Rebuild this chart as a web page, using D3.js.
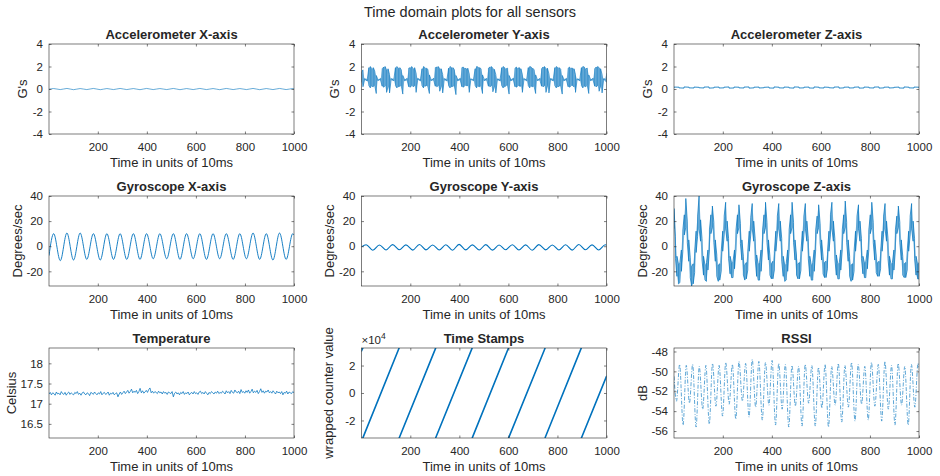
<!DOCTYPE html>
<html>
<head>
<meta charset="utf-8">
<script src="https://cdn.jsdelivr.net/npm/d3@7"></script>
<style>
  body { margin: 0; background: #fff; }
  svg text { font-family: "Liberation Sans", Arial, Helvetica, sans-serif; fill: #262626; }
</style>
</head>
<body>
<svg id="chart" width="940" height="476"></svg>
<script>
// ---- sensor data (sample index 1..1000, 10 ms per sample) ----

const xTickValues = [200, 400, 600, 800, 1000];
const accelTicks = [-4, -2, 0, 2, 4];
const gyroTicks = [-20, 0, 20, 40];
const tempTicks = [16.5, 17, 17.5, 18];
const stampTicks = [-20000, 0, 20000];
const rssiTicks = [-56, -54, -52, -50, -48];

// turning points [sample, value]
const accelX = [[1,-0.02],[20,0.04],[47,-0.05],[74,0.05],[101,-0.06],[128,0.04],[155,-0.05],[182,0.05],[210,-0.06],[237,0.04],[264,-0.05],[291,0.05],[318,-0.05],[345,0.04],[372,-0.06],[399,0.05],[426,-0.05],[453,0.04],[481,-0.05],[508,0.05],[535,-0.06],[562,0.04],[589,-0.05],[616,0.05],[643,-0.05],[670,0.04],[697,-0.06],[724,0.05],[752,-0.05],[779,0.04],[806,-0.05],[833,0.05],[860,-0.06],[887,0.04],[914,-0.05],[941,0.05],[968,-0.05],[995,0.04],[1000,0.01]];

const gyroX = [[1,-7.5],[20,10],[47,-11.5],[74,10.5],[101,-11],[128,10.5],[155,-10.5],[182,10],[210,-11],[237,10],[264,-10.5],[291,10],[318,-10.5],[345,10],[372,-10.5],[399,10],[426,-10],[453,10],[481,-10],[508,10],[535,-10.5],[562,10],[589,-10],[616,10],[643,-10.5],[670,10],[697,-10],[724,10],[752,-10.5],[779,10],[806,-10],[833,10.5],[860,-10.5],[887,10],[914,-11],[941,10.5],[968,-10.5],[995,10],[1000,9]];

const gyroY = [[1,-0.5],[20,1.2],[47,-3.2],[74,1.0],[101,-3.0],[128,1.3],[155,-2.8],[182,1.1],[210,-3.1],[237,1.4],[264,-2.9],[291,1.0],[318,-3.0],[345,1.2],[372,-3.2],[399,1.5],[426,-2.9],[453,1.1],[481,-3.0],[508,1.3],[535,-3.1],[562,1.0],[589,-2.8],[616,1.2],[643,-3.0],[670,1.1],[697,-3.2],[724,1.3],[752,-2.9],[779,1.0],[806,-3.0],[833,1.2],[860,-3.1],[887,1.4],[914,-2.8],[941,1.1],[968,-3.0],[995,1.2],[1000,0.8]];

const rssi = [[1,-50.5],[11,-53.0],[24,-49.3],[38,-55.4],[51,-49.4],[64,-53.2],[77,-49.3],[91,-55.6],[104,-49.5],[118,-53.8],[131,-49.4],[145,-55.3],[158,-49.2],[172,-53.5],[185,-49.4],[199,-54.5],[212,-49.1],[226,-53.3],[239,-49.3],[253,-54.8],[266,-49.0],[280,-53.0],[293,-49.2],[307,-54.6],[320,-48.8],[334,-53.6],[347,-49.0],[361,-54.9],[374,-49.1],[388,-53.4],[401,-48.9],[415,-55.4],[428,-49.2],[442,-53.8],[455,-49.3],[469,-55.6],[482,-49.4],[496,-53.5],[509,-49.5],[523,-55.5],[536,-49.3],[550,-53.2],[563,-49.4],[577,-55.5],[590,-49.6],[604,-53.7],[617,-49.3],[631,-55.6],[644,-49.5],[658,-53.4],[671,-49.2],[685,-55.1],[698,-49.4],[712,-53.6],[725,-49.1],[739,-55.0],[752,-49.3],[766,-53.3],[779,-49.5],[793,-54.9],[806,-49.1],[820,-53.5],[834,-49.3],[848,-55.0],[861,-49.0],[875,-53.8],[888,-49.4],[902,-55.4],[915,-49.2],[929,-53.4],[942,-49.5],[956,-55.4],[969,-49.3],[983,-53.6],[996,-49.2],[1000,-49.6]];

// min / max per 6-sample block (167 blocks)
const accelYHi = [
  1.5,1.7,0.92,0.88,0.95,1.9,2.0,1.8,1.9,
  1.6,1.2,0.9,0.86,0.93,1.8,1.95,2.0,1.7,
  1.8,1.3,0.92,0.9,0.95,1.9,2.0,1.85,1.9,
  1.7,1.2,0.9,0.88,0.94,1.85,1.9,2.0,1.8,
  1.9,1.4,0.93,0.9,0.92,1.8,2.0,1.9,1.85,
  1.75,1.25,0.9,0.87,0.95,1.9,1.95,2.0,1.8,
  1.8,1.3,0.92,0.89,0.93,1.85,2.0,1.9,1.9,
  1.7,1.2,0.91,0.88,0.94,1.9,1.95,1.85,1.8,
  1.85,1.35,0.9,0.87,0.95,1.8,2.0,1.95,1.9,
  1.8,1.25,0.92,0.9,0.93,1.85,1.95,2.0,1.85,
  1.75,1.3,0.9,0.88,0.94,1.9,2.0,1.9,1.8,
  1.85,1.2,0.91,0.89,0.95,1.85,1.95,1.85,1.9,
  1.8,1.3,0.92,0.88,0.93,1.9,2.0,1.95,1.85,
  1.7,1.25,0.9,0.87,0.94,1.8,1.95,2.0,1.8,
  1.85,1.35,0.92,0.9,0.95,1.9,2.0,1.9,1.9,
  1.75,1.2,0.91,0.88,0.93,1.85,1.95,1.85,1.85,
  1.8,1.3,0.9,0.89,0.94,1.9,2.0,1.95,1.8,
  1.85,1.25,0.92,0.88,0.95,1.8,1.95,2.0,1.9,
  1.8,1.3,0.91,0.9,1.4];
const accelYLo = [
  0.6,0.2,0.76,0.78,0.72,0.3,0.1,0.25,0.2,
  0.3,-0.4,0.75,0.79,0.73,0.25,0.15,0.3,-0.3,
  0.2,-0.35,0.76,0.78,0.74,0.3,0.1,0.2,0.25,
  0.25,-0.45,0.74,0.77,0.72,0.2,0.15,0.3,0.2,
  0.3,-0.3,0.76,0.79,0.73,0.3,0.1,0.25,0.3,
  0.2,-0.4,0.75,0.78,0.74,0.25,0.2,0.3,-0.2,
  0.25,-0.35,0.76,0.77,0.72,0.3,0.1,0.2,0.25,
  0.2,-0.5,0.74,0.78,0.73,0.2,0.15,0.3,0.3,
  0.3,-0.3,0.76,0.79,0.74,0.3,0.1,0.25,0.2,
  0.25,-0.4,0.75,0.78,0.72,0.25,0.2,0.3,-0.25,
  0.2,-0.35,0.76,0.77,0.73,0.3,0.1,0.2,0.3,
  0.3,-0.45,0.74,0.78,0.74,0.2,0.15,0.3,0.25,
  0.25,-0.3,0.76,0.79,0.72,0.3,0.1,0.25,0.2,
  0.2,-0.4,0.75,0.78,0.73,0.25,0.2,0.3,-0.3,
  0.3,-0.35,0.76,0.77,0.74,0.3,0.1,0.2,0.25,
  0.25,-0.45,0.74,0.78,0.72,0.2,0.15,0.3,0.3,
  0.2,-0.3,0.76,0.79,0.73,0.3,0.1,0.25,0.2,
  0.3,-0.4,0.75,0.78,0.74,0.25,0.2,0.3,-0.2,
  0.25,-0.35,0.76,0.78,0.6];

const gyroZHi = [
  30,8,-8,-14,-13,-3,13,25,38,
  20,5,-9,-16,-14,-4,12,24,40,
  21,6,-8,-15,-13,-3,13,25,32,
  19,5,-7,-15,-14,-4,12,24,35,
  20,6,-8,-13,-12,-3,13,25,33,
  18,5,-8,-15,-13,-4,12,23,34,
  20,6,-7,-14,-13,-3,13,25,35,
  19,5,-8,-14,-12,-4,12,24,34,
  20,6,-8,-15,-14,-3,13,25,35,
  19,5,-7,-14,-13,-4,12,24,34,
  20,6,-8,-15,-13,-3,13,24,33,
  18,5,-8,-13,-12,-4,12,25,35,
  20,6,-7,-14,-13,-3,13,25,36,
  19,5,-8,-15,-14,-4,12,24,33,
  20,6,-8,-13,-12,-3,13,25,35,
  19,5,-7,-13,-12,-4,12,24,34,
  20,6,-8,-14,-13,-3,13,24,32,
  19,5,-8,-14,-13,-4,12,24,34,
  20,6,-8,-14,-13];
const gyroZLo = [
  14,-10,-24,-30,-29,-20,-4,9,15,
  3,-12,-25,-32,-30,-21,-5,8,14,
  4,-11,-23,-27,-28,-19,-3,10,15,
  3,-12,-24,-28,-27,-20,-4,9,14,
  4,-10,-22,-25,-25,-18,-3,10,15,
  2,-11,-23,-27,-26,-19,-4,9,14,
  4,-10,-24,-27,-27,-20,-3,10,15,
  3,-11,-23,-26,-26,-19,-4,9,14,
  4,-12,-24,-28,-27,-20,-3,10,15,
  3,-11,-23,-26,-26,-19,-4,9,14,
  4,-10,-24,-27,-27,-20,-3,10,15,
  3,-11,-22,-25,-25,-18,-4,9,14,
  4,-10,-23,-26,-26,-19,-3,10,15,
  3,-12,-24,-28,-27,-20,-4,9,14,
  4,-10,-22,-25,-25,-18,-3,10,15,
  3,-11,-21,-24,-24,-18,-4,9,14,
  4,-10,-23,-26,-26,-19,-3,10,15,
  3,-11,-23,-25,-25,-19,-4,9,14,
  4,-10,-23,-26,-26];

// min / max per 20-sample block
const accelZHi = [0.17,0.16,0.18,0.16,0.17,0.15,0.17,0.18,0.16,0.17,0.16,0.18,0.17,0.16,0.17,0.18,0.16,0.17,0.15,0.17,0.18,0.16,0.17,0.16,0.18,0.17,0.16,0.17,0.18,0.16,0.17,0.15,0.17,0.18,0.16,0.17,0.16,0.18,0.17,0.16,0.17,0.18,0.16,0.17,0.15,0.17,0.18,0.16,0.17,0.16];
const accelZLo = [0.09,0.10,0.08,0.10,0.09,0.11,0.09,0.08,0.10,0.09,0.10,0.08,0.09,0.10,0.09,0.08,0.10,0.09,0.11,0.09,0.08,0.10,0.09,0.10,0.08,0.09,0.10,0.09,0.08,0.10,0.09,0.11,0.09,0.08,0.10,0.09,0.10,0.08,0.09,0.10,0.09,0.08,0.10,0.09,0.11,0.09,0.08,0.10,0.09,0.10];

// temperature, one reading every 5 samples
const temperature = [
  17.24,17.28,17.22,17.27,17.25,17.21,17.29,17.24,17.26,17.22,17.30,17.25,17.23,17.28,17.21,17.26,17.29,17.23,17.27,17.24,
  17.22,17.28,17.25,17.30,17.23,17.26,17.21,17.27,17.29,17.24,17.22,17.27,17.25,17.20,17.28,17.26,17.23,17.29,17.25,17.22,
  17.27,17.24,17.30,17.22,17.26,17.28,17.23,17.25,17.29,17.21,17.26,17.24,17.28,17.22,17.25,17.27,17.17,17.24,17.29,17.23,
  17.27,17.31,17.25,17.29,17.33,17.26,17.30,17.36,17.27,17.31,17.28,17.33,17.25,17.30,17.38,17.27,17.32,17.26,17.29,17.33,
  17.28,17.35,17.39,17.27,17.31,17.26,17.30,17.28,17.25,17.31,17.27,17.29,17.24,17.30,17.26,17.28,17.23,17.29,17.27,17.25,
  17.30,17.17,17.26,17.29,17.24,17.27,17.22,17.28,17.25,17.30,17.23,17.27,17.25,17.29,17.22,17.26,17.28,17.24,17.30,17.25,
  17.27,17.23,17.29,17.31,17.25,17.28,17.24,17.30,17.26,17.22,17.28,17.25,17.30,17.27,17.24,17.29,17.26,17.31,17.25,17.28,
  17.26,17.31,17.28,17.24,17.32,17.27,17.30,17.25,17.33,17.28,17.26,17.34,17.29,17.27,17.31,17.25,17.35,17.28,17.30,17.26,
  17.32,17.28,17.34,17.26,17.30,17.36,17.27,17.31,17.28,17.33,17.25,17.30,17.37,17.28,17.32,17.26,17.31,17.29,17.34,17.27,
  17.30,17.26,17.32,17.28,17.24,17.31,17.27,17.29,17.25,17.30,17.22,17.28,17.26,17.31,17.24,17.29,17.27,17.25,17.30,17.27];

// wrapped 16-bit counter: one ramp per wrap
const stampStartT = [1, 7, 155, 304, 453, 601, 750, 898];
const stampEndT   = [6, 154, 303, 452, 600, 749, 897, 1000];
const stampStartV = [30600, -32500, -32600, -32400, -32500, -32700, -32400, -32600];
const stampEndV   = [32700, 32600, 32500, 32700, 32600, 32400, 32700, 12100];

// ---- layout ----
const svg = d3.select("#chart");
const FONT = '"Liberation Sans", Arial, Helvetica, sans-serif';
const INK = "#262626";
const BLUE = "#0072BD";
const colLeft = [49, 361.5, 674];
const rowTop = [44, 196, 348];
const plotW = 245, plotH = 90, tickLen = 2.5;

// sample times spread evenly across the full 1..1000 range
const blockTimes = n => d3.range(n).map(i => 1 + i * 999 / (n - 1));

// min/max blocks drawn as vertical strokes joined into one polyline
function envelopePoints(lo, hi) {
  const ts = blockTimes(lo.length);
  const pts = [];
  ts.forEach((t, i) => {
    if (i % 2 === 0) pts.push([t, lo[i]], [t, hi[i]]);
    else pts.push([t, hi[i]], [t, lo[i]]);
  });
  return pts;
}

function drawEnvelope(g, x, y, lo, hi, width, fillOpacity) {
  const ts = blockTimes(lo.length);
  const rows = ts.map((t, i) => ({ t, lo: lo[i], hi: hi[i] }));
  if (fillOpacity) {
    g.append("path")
      .attr("d", d3.area().x(d => x(d.t)).y0(d => y(d.lo)).y1(d => y(d.hi))(rows))
      .attr("fill", BLUE).attr("fill-opacity", fillOpacity);
  }
  drawPath(g, x, y, envelopePoints(lo, hi), { width });
}

function drawPath(g, x, y, pts, opts) {
  const line = d3.line().x(d => x(d[0])).y(d => y(d[1]));
  if (opts.curve) line.curve(opts.curve);
  const p = g.append("path").attr("d", line(pts))
    .attr("fill", "none").attr("stroke", BLUE)
    .attr("stroke-width", opts.width || 0.8)
    .attr("stroke-linejoin", "round");
  if (opts.dash) p.attr("stroke-dasharray", opts.dash);
  if (opts.opacity) p.attr("stroke-opacity", opts.opacity);
}

const panels = [
  { col: 0, row: 0, title: "Accelerometer X-axis", ylabel: "G's", yDomain: [-4, 4], yTicks: accelTicks, yLabelDx: -27,
    draw: (g, x, y) => drawPath(g, x, y, accelX, { curve: d3.curveMonotoneX, width: 0.7, opacity: 0.85 }) },
  { col: 1, row: 0, title: "Accelerometer Y-axis", ylabel: "G's", yDomain: [-4, 4], yTicks: accelTicks, yLabelDx: -27,
    draw: (g, x, y) => drawEnvelope(g, x, y, accelYLo, accelYHi, 0.6, 0.45) },
  { col: 2, row: 0, title: "Accelerometer Z-axis", ylabel: "G's", yDomain: [-4, 4], yTicks: accelTicks, yLabelDx: -27,
    draw: (g, x, y) => drawEnvelope(g, x, y, accelZLo, accelZHi, 0.8, 0) },
  { col: 0, row: 1, title: "Gyroscope X-axis", ylabel: "Degrees/sec", yDomain: [-31.7, 40], yTicks: gyroTicks, yLabelDx: -32,
    draw: (g, x, y) => drawPath(g, x, y, gyroX, { curve: d3.curveMonotoneX, width: 0.9 }) },
  { col: 1, row: 1, title: "Gyroscope Y-axis", ylabel: "Degrees/sec", yDomain: [-31.7, 40], yTicks: gyroTicks, yLabelDx: -32,
    draw: (g, x, y) => drawPath(g, x, y, gyroY, { curve: d3.curveMonotoneX, width: 1.1 }) },
  { col: 2, row: 1, title: "Gyroscope Z-axis", ylabel: "Degrees/sec", yDomain: [-31.7, 40], yTicks: gyroTicks, yLabelDx: -32,
    draw: (g, x, y) => drawEnvelope(g, x, y, gyroZLo, gyroZHi, 0.7, 0.4) },
  { col: 0, row: 2, title: "Temperature", ylabel: "Celsius", yDomain: [16.15, 18.38], yTicks: tempTicks, yLabelDx: -38,
    draw: (g, x, y) => {
      const ts = blockTimes(temperature.length);
      drawPath(g, x, y, temperature.map((v, i) => [ts[i], v]), { width: 0.75 });
    } },
  { col: 1, row: 2, title: "Time Stamps", ylabel: "wrapped counter value", yDomain: [-32768, 32767], yTicks: stampTicks,
    yFormat: d => String(d / 1e4), yLabelDx: -33,
    draw: (g, x, y) => {
      stampStartT.forEach((t0, i) => {
        g.append("line")
          .attr("x1", x(t0)).attr("y1", y(stampStartV[i]))
          .attr("x2", x(stampEndT[i])).attr("y2", y(stampEndV[i]))
          .attr("stroke", BLUE).attr("stroke-width", 1.6).attr("stroke-linecap", "round");
      });
    } },
  { col: 2, row: 2, title: "RSSI", ylabel: "dB", yDomain: [-56.7, -47.65], yTicks: rssiTicks, yLabelDx: -32,
    draw: (g, x, y) => drawPath(g, x, y, rssi, { curve: d3.curveMonotoneX, width: 0.7, dash: "4,1.6,1,1.6", opacity: 0.9 }) }
];

function styleAxis(sel) {
  sel.attr("font-size", 11.5).attr("font-family", FONT).attr("color", INK);
  sel.select(".domain").remove();
  sel.selectAll(".tick line").attr("stroke-width", 0.6);
}

panels.forEach((cfg, idx) => {
  const left = colLeft[cfg.col], top = rowTop[cfg.row];
  const right = left + plotW, bottom = top + plotH;
  const x = d3.scaleLinear().domain([1, 1000]).range([left, right]);
  const y = d3.scaleLinear().domain(cfg.yDomain).range([bottom, top]);
  const g = svg.append("g");

  const clipId = "plotclip" + idx;
  svg.append("clipPath").attr("id", clipId)
    .append("rect").attr("x", left).attr("y", top).attr("width", plotW).attr("height", plotH);
  const plot = g.append("g").attr("clip-path", `url(#${clipId})`);
  cfg.draw(plot, x, y);

  const fmt = cfg.yFormat || (d => String(d));

  g.append("g").attr("transform", `translate(0,${bottom})`)
    .call(d3.axisBottom(x).tickValues(xTickValues).tickSize(-tickLen).tickPadding(8.5).tickFormat(d => String(d)))
    .call(styleAxis);
  g.append("g").attr("transform", `translate(0,${top})`)
    .call(d3.axisTop(x).tickValues(xTickValues).tickSize(-tickLen).tickFormat(""))
    .call(styleAxis);
  g.append("g").attr("transform", `translate(${left},0)`)
    .call(d3.axisLeft(y).tickValues(cfg.yTicks).tickSize(-tickLen).tickPadding(6).tickFormat(fmt))
    .call(styleAxis);
  g.append("g").attr("transform", `translate(${right},0)`)
    .call(d3.axisRight(y).tickValues(cfg.yTicks).tickSize(-tickLen).tickFormat(""))
    .call(styleAxis);

  g.append("rect").attr("x", left).attr("y", top).attr("width", plotW).attr("height", plotH)
    .attr("fill", "none").attr("stroke", INK).attr("stroke-width", 0.6);

  g.append("text").attr("x", (left + right) / 2).attr("y", top - 5)
    .attr("text-anchor", "middle").attr("font-size", 13).attr("font-weight", "bold")
    .text(cfg.title);

  g.append("text").attr("x", (left + right) / 2).attr("y", bottom + 32.5)
    .attr("text-anchor", "middle").attr("font-size", 13)
    .text("Time in units of 10ms");

  g.append("text")
    .attr("transform", `translate(${left + cfg.yLabelDx},${(top + bottom) / 2}) rotate(-90)`)
    .attr("dy", "0.35em").attr("text-anchor", "middle").attr("font-size", 13)
    .text(cfg.ylabel);

  if (cfg.title === "Time Stamps") {
    const ex = g.append("text").attr("x", left).attr("y", top - 4).attr("font-size", 11.5);
    ex.append("tspan").text("\u00d710");
    ex.append("tspan").attr("dy", -5).attr("font-size", 8.5).text("4");
  }
});

svg.append("text").attr("x", 470).attr("y", 17)
  .attr("text-anchor", "middle").attr("font-size", 14.5)
  .text("Time domain plots for all sensors");
</script>
</body>
</html>
